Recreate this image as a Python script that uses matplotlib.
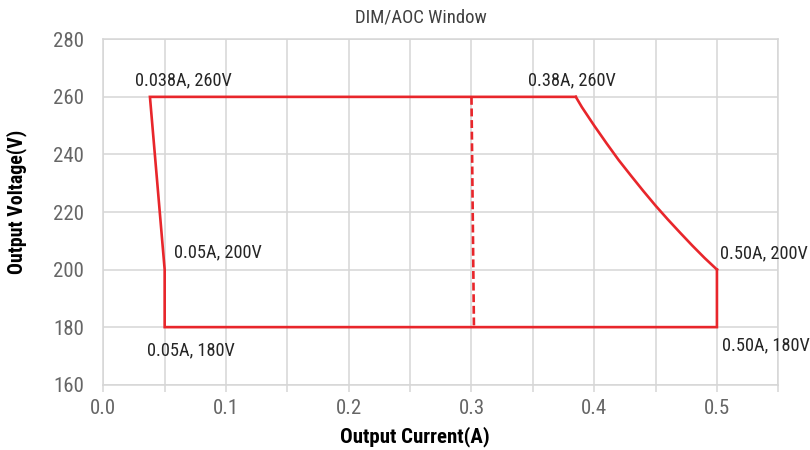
import os
import matplotlib
matplotlib.use("Agg")
import matplotlib.pyplot as plt
from matplotlib import font_manager
from matplotlib.font_manager import FontProperties

# window outline (current in A, voltage in V)
left_i = [0.385, 0.038, 0.05, 0.05, 0.50, 0.50]
left_v = [260, 260, 200, 180, 180, 200]
# constant power part between 0.50A/200V and 0.385A/260V
curve_i = [0.50, 0.49, 0.48, 0.47, 0.46, 0.45, 0.44, 0.43, 0.42, 0.41, 0.40, 0.39, 0.385]
curve_v = [200, 204, 208.3, 212.8, 217.4, 222.2, 227.3, 232.6, 238, 243.9, 250, 256.4, 260]
# dashed divider
dash_i = [0.300, 0.302]
dash_v = [260, 180]

labels = ["0.038A, 260V", "0.05A, 200V", "0.05A, 180V",
          "0.38A, 260V", "0.50A, 200V", "0.50A, 180V"]
label_i = [0.038, 0.05, 0.05, 0.385, 0.50, 0.50]
label_v = [260, 200, 180, 260, 200, 180]

x_ticks = [0.0, 0.1, 0.2, 0.3, 0.4, 0.5]
y_ticks = [160, 180, 200, 220, 240, 260, 280]


def pick_font(bold):
    "Find a condensed font file, DIN-like look of the reference."
    prefs = ['RobotoCondensed', 'LiberationSansNarrow', 'OpenSansCondensed',
             'OpenSans_Condensed', 'DejaVuSansCondensed']
    bad = ['Italic', 'Oblique', 'Light', 'Thin', 'Medium', 'Black', 'Semi', 'Extra']
    files = sorted({f.fname for f in font_manager.fontManager.ttflist})
    for p in prefs:
        for fn in files:
            base = os.path.basename(fn)
            if not base.startswith(p):
                continue
            if any(b in base for b in bad):
                continue
            if ('Bold' in base) == bold:
                return fn
    return None


reg_file = pick_font(False)
bold_file = pick_font(True)


def fp(size, bold=False):
    fn = bold_file if bold else reg_file
    if fn:
        return FontProperties(fname=fn, size=size)
    return FontProperties(family='Roboto', size=size,
                          weight='bold' if bold else 'normal')


W, H = 810, 450
red = "#e8262b"
grid = "#d6d6d6"

fig = plt.figure(figsize=(W / 100, H / 100), dpi=100)
ax = fig.add_axes([103.3 / W, 1 - 384.7 / H, (778.3 - 103.3) / W, (384.7 - 39.3) / H])

ax.plot(left_i, left_v, color=red, lw=1.9, solid_joinstyle='miter', zorder=3)
ax.plot(curve_i, curve_v, color=red, lw=1.9, zorder=3)
ax.plot(dash_i, dash_v, color=red, lw=1.9, ls=(0, (3, 1.4)), zorder=3)

# offsets of the labels in pixels from their corner
offsets = [(-15, 17), (9, 17), (-18, -23), (-48, 17), (3, 16), (5, -18)]
for txt, xi, yv, (dx, dy) in zip(labels, label_i, label_v, offsets):
    ax.annotate(txt, (xi, yv), xytext=(dx, dy), textcoords='offset pixels',
                ha='left', va='center', fontproperties=fp(13.2), color='#262626')

ax.set_xlim(0, 0.55)
ax.set_ylim(160, 280)
minor = [i * 0.05 for i in range(12)]
ax.set_xticks(minor)
ax.set_xticklabels([f"{t:.1f}" if i % 2 == 0 else "" for i, t in enumerate(minor)])
ax.set_yticks(y_ticks)
for lab in ax.get_xticklabels() + ax.get_yticklabels():
    lab.set_fontproperties(fp(15))
ax.grid(True, color=grid, lw=1.1)
ax.set_axisbelow(True)
for s in ax.spines.values():
    s.set_color(grid)
    s.set_linewidth(1.1)
ax.tick_params(axis='x', length=5, color=grid, width=1.1,
               labelcolor='#666666', pad=5)
ax.tick_params(axis='y', length=0, labelcolor='#666666', pad=14)

# titles placed like in the reference (pixel centres)
fig.text(421 / W, 1 - 18 / H, "DIM/AOC Window", ha='center', va='center',
         fontproperties=fp(13.5), color='#404040')
fig.text(415 / W, 1 - 437 / H, "Output Current(A)", ha='center', va='center',
         fontproperties=fp(15, True), color='black')
fig.text(17 / W, 1 - 202 / H, "Output Voltage(V)", ha='center', va='center',
         rotation=90, fontproperties=fp(14.3, True), color='black')

fig.savefig("out.png", dpi=100)
